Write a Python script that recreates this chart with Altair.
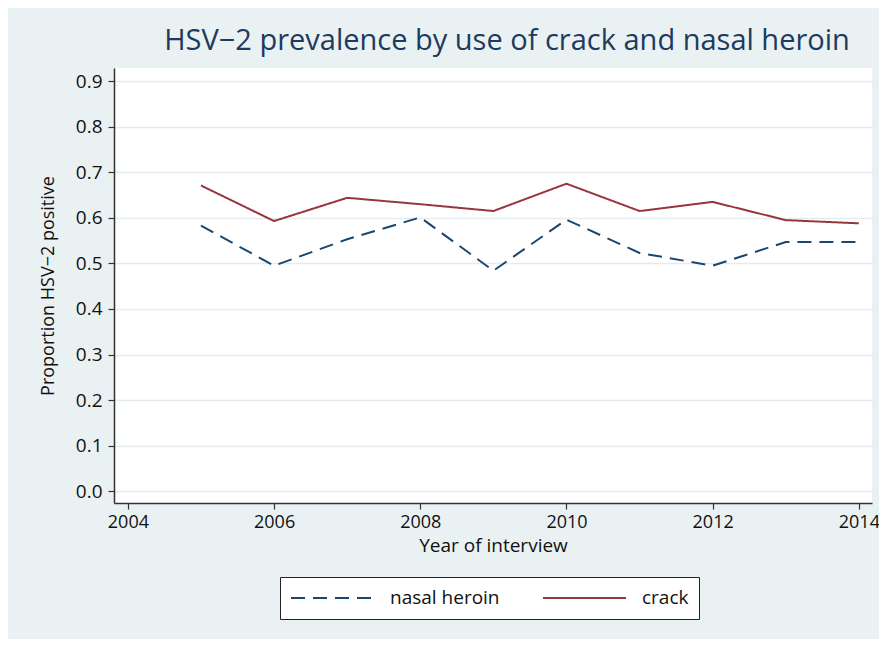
import altair as alt
import pandas as pd

years = [2005, 2006, 2007, 2008, 2009, 2010, 2011, 2012, 2013, 2014]
crack = [0.671, 0.593, 0.644, 0.630, 0.615, 0.675, 0.615, 0.635, 0.595, 0.588]
nasal_heroin = [0.583, 0.495, 0.553, 0.601, 0.484, 0.596, 0.523, 0.495, 0.547, 0.547]
series_names = ["nasal heroin", "crack"]
x_ticks = [2004, 2006, 2008, 2010, 2012, 2014]
y_ticks = [0.0, 0.1, 0.2, 0.3, 0.4, 0.5, 0.6, 0.7, 0.8, 0.9]

rows = []
for y, v in zip(years, nasal_heroin):
    rows.append({"year": y, "value": v, "series": "nasal heroin"})
for y, v in zip(years, crack):
    rows.append({"year": y, "value": v, "series": "crack"})
df = pd.DataFrame(rows)

FONT = "Open Sans"
BG = "#EAF1F3"

chart = alt.Chart(df).mark_line(strokeWidth=2).encode(
    x=alt.X("year:Q",
            scale=alt.Scale(domain=[2003.81, 2014.18], nice=False, zero=False),
            axis=alt.Axis(values=x_ticks, format="d", title="Year of interview",
                          grid=False, tickSize=6, labelPadding=4, labelFontSize=18,
                          titlePadding=5)),
    y=alt.Y("value:Q",
            scale=alt.Scale(domain=[-0.026, 0.929], nice=False, zero=False),
            axis=alt.Axis(values=y_ticks, format=".1f",
                          title="Proportion HSV\u22122 positive",
                          grid=True, tickSize=6, labelPadding=6,
                          titlePadding=18, titleFontSize=18)),
    color=alt.Color("series:N",
                    scale=alt.Scale(domain=series_names, range=["#1A476F", "#98363E"]),
                    legend=alt.Legend(title=None, orient="none", direction="horizontal",
                                      legendX=166, legendY=509,
                                      symbolType="stroke", symbolSize=6889,
                                      symbolStrokeWidth=2, clipHeight=22,
                                      labelFontSize=19, labelFont=FONT, labelColor="#111111",
                                      labelOffset=15, columnPadding=42,
                                      padding=10, strokeColor="#222222",
                                      fillColor="white")),
    strokeDash=alt.StrokeDash("series:N",
                              scale=alt.Scale(domain=series_names, range=[[14, 8], [1, 0]]),
                              legend=None),
).properties(
    width=758,
    height=435,
    background=BG,
    padding={"left": 106, "top": 60, "right": 7, "bottom": 136},
    autosize=alt.AutoSizeParams(type="none"),
    title=alt.TitleParams("HSV\u22122 prevalence by use of crack and nasal heroin",
                          fontSize=29, font=FONT, fontWeight="normal",
                          color="#1C3B5E", anchor="middle", dx=14, offset=12),
).configure_view(
    fill="white", stroke=None
).configure_axis(
    labelFont=FONT, titleFont=FONT, labelFontSize=19, titleFontSize=19,
    titleFontWeight="normal", labelColor="#111111", titleColor="#111111",
    domainColor="#333333", domainWidth=1.5, tickColor="#333333", tickWidth=1.2,
    gridColor="#E3ECEF", gridWidth=1.5
)

chart.save("out.html", embed_options={"renderer": "svg", "actions": False})
